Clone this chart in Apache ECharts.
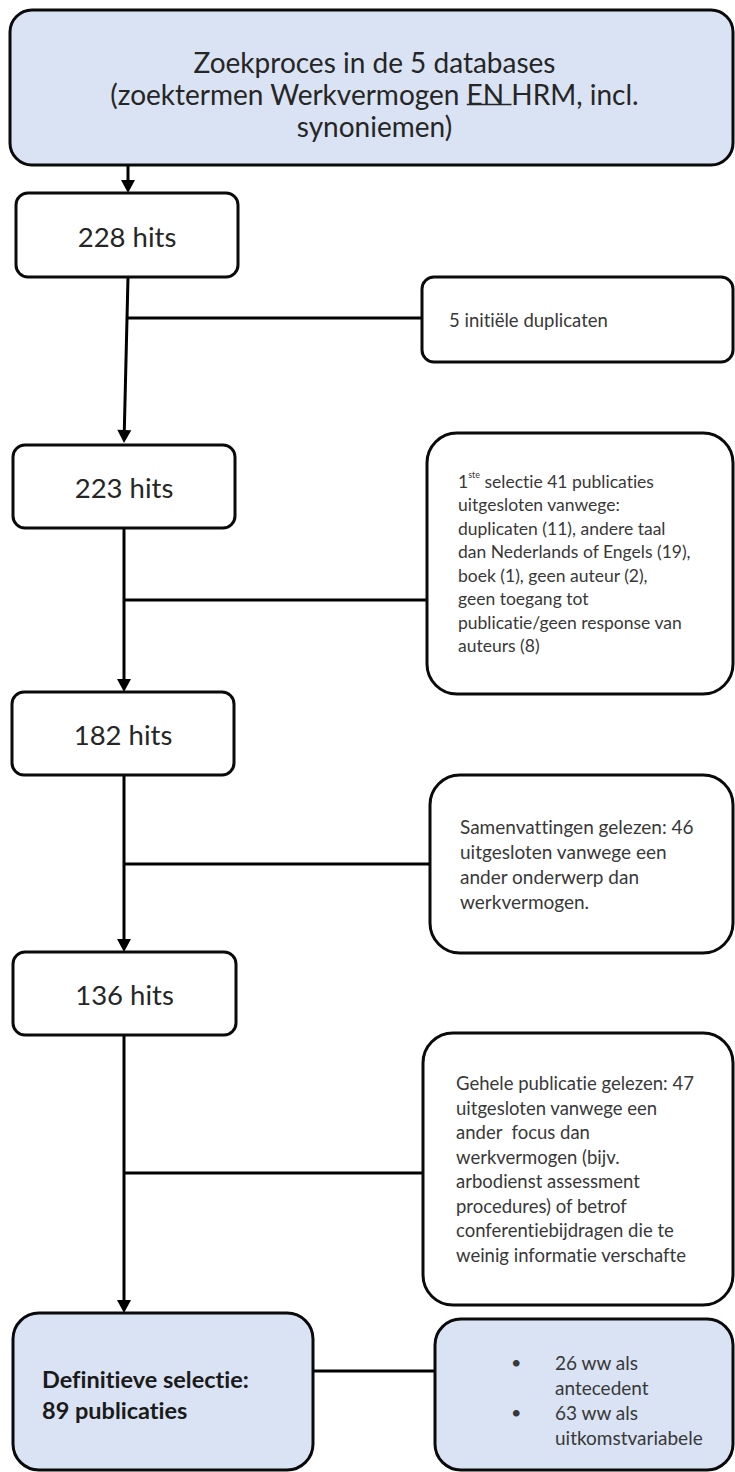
<!DOCTYPE html>
<html lang="nl">
<head>
<meta charset="UTF-8">
<title>Zoekproces werkvermogen en HRM</title>
<script src="https://cdn.jsdelivr.net/npm/echarts@6/dist/echarts.min.js"></script>
<style>
html,body{margin:0;padding:0;background:#fff;}
/* geen ligaturen (Lato maakt anders 'ti' aan elkaar) */
#main text, #main tspan{font-variant-ligatures:none !important;font-feature-settings:"liga" 0,"clig" 0 !important;}
</style>
</head>
<body>
<div id="main" style="width:735px;height:1472px;"></div>
<script type="text/javascript">
// aantallen uit het stroomschema
var hits = [228, 223, 182, 136];
var excluded = [5, 41, 46, 47];
var firstSelection = [11, 19, 1, 2, 8]; // duplicaten, taal, boek, geen auteur, geen toegang
var finalCount = 89;
var finalSplit = [26, 63];          // ww als antecedent / ww als uitkomstvariabele

var startLines = ['Zoekproces in de 5 databases', '(zoektermen Werkvermogen EN HRM, incl.', 'synoniemen)'];
var noteTexts = [
    excluded[0] + ' initiële duplicaten',
    '1{sup|ste} selectie ' + excluded[1] + ' publicaties\nuitgesloten vanwege:\nduplicaten (' + firstSelection[0] +
        '), andere taal\ndan Nederlands of Engels (' + firstSelection[1] + '),\nboek (' + firstSelection[2] +
        '), geen auteur (' + firstSelection[3] + '),\ngeen toegang tot\npublicatie/geen response van\nauteurs (' + firstSelection[4] + ')',
    'Samenvattingen gelezen: ' + excluded[2] + '\nuitgesloten vanwege een\nander onderwerp dan\nwerkvermogen.',
    'Gehele publicatie gelezen: ' + excluded[3] + '\nuitgesloten vanwege een\nander  focus dan\nwerkvermogen (bijv.\narbodienst assessment\nprocedures) of betrof\nconferentiebijdragen die te\nweinig informatie verschafte'
];
var finalText = 'Definitieve selectie:\n' + finalCount + ' publicaties';
var splitLabels = ['ww als\nantecedent', 'ww als\nuitkomstvariabele'];

// vakken: [x0, y0, x1, y1] in paginacoordinaten
var boxes = [
    [10, 10, 733, 165],
    [16, 193, 238, 277],
    [422, 277, 733, 362],
    [13, 445, 235, 528],
    [427, 433, 733, 694],
    [12, 692, 234, 775],
    [430, 775, 733, 953],
    [13, 952, 236, 1035],
    [423, 1033, 733, 1305],
    [13, 1313, 313, 1470],
    [435, 1319, 733, 1470]
];
var boxKind = ['start', 'hit', 'note', 'hit', 'note', 'hit', 'note', 'hit', 'note', 'final', 'split'];
var boxRadius = [22, 12, 12, 12, 30, 12, 30, 12, 30, 26, 26];

// verbindingen: [x0, y0, x1, y1, pijl]
var links = [
    [128, 165, 128, 193, 1],
    [128, 277, 124, 443, 1],
    [127, 318, 422, 318, 0],
    [124, 528, 124, 692, 1],
    [124, 600, 427, 600, 0],
    [124, 775, 124, 952, 1],
    [124, 864, 430, 864, 0],
    [124, 1035, 124, 1313, 1],
    [124, 1173, 423, 1173, 0],
    [313, 1371, 435, 1371, 0]
];

var FONT = 'Lato, "Open Sans", sans-serif';
var BLUE = '#dae3f3';
var measureCtx = document.createElement('canvas').getContext('2d');
function textWidth(str, font) {
    measureCtx.font = font;
    return measureCtx.measureText(str).width;
}

var noteStyle = [
    {size: 18.5, lh: 22, pad: 27},
    {size: 17.5, lh: 23.5, pad: 31},
    {size: 19, lh: 24.7, pad: 30},
    {size: 18.5, lh: 24.5, pad: 33}
];

function renderBox(params, api) {
    var i = params.dataIndex;
    var p0 = api.coord([api.value(0), api.value(1)]);
    var p1 = api.coord([api.value(2), api.value(3)]);
    var w = p1[0] - p0[0], h = p1[1] - p0[1];
    var kind = boxKind[i];
    var cx = p0[0] + w / 2, cy = p0[1] + h / 2;
    var children = [{
        type: 'rect',
        shape: {x: p0[0], y: p0[1], width: w, height: h, r: boxRadius[i]},
        style: {fill: (kind === 'start' || kind === 'final' || kind === 'split') ? BLUE : '#fff', stroke: '#0a0a0a', lineWidth: 3}
    }];
    if (kind === 'start') {
        var fs = 28;
        var ty = cy + 6;
        children.push({type: 'text', style: {
            text: startLines.join('\n'), x: cx + 3, y: ty, align: 'center', verticalAlign: 'middle',
            fontFamily: FONT, fontSize: fs, lineHeight: 32, fill: '#262626'
        }});
        // onderstreping van "EN"
        var font = fs + 'px ' + FONT;
        var line2 = startLines[1];
        var pre = line2.slice(0, line2.indexOf('EN '));
        var ux = cx + 3 - textWidth(line2, font) / 2 + textWidth(pre, font);
        var uy = ty + 11;
        children.push({type: 'line', shape: {x1: ux, y1: uy, x2: ux + textWidth('EN ', font), y2: uy},
            style: {stroke: '#262626', lineWidth: 1.5}});
    } else if (kind === 'hit') {
        var k = [1, 3, 5, 7].indexOf(i);
        children.push({type: 'text', style: {
            text: hits[k] + ' hits', x: cx, y: cy + 1, align: 'center', verticalAlign: 'middle',
            fontFamily: FONT, fontSize: 27.5, fill: '#262626'
        }});
    } else if (kind === 'note') {
        var n = [2, 4, 6, 8].indexOf(i);
        var ns = noteStyle[n];
        children.push({type: 'text', style: {
            text: noteTexts[n], x: p0[0] + ns.pad, y: cy, align: 'left', verticalAlign: 'middle',
            fontFamily: FONT, fontSize: ns.size, lineHeight: ns.lh, fill: '#383838',
            rich: {sup: {fontFamily: FONT, fontSize: 9, lineHeight: 11, verticalAlign: 'top', fill: '#383838'}}
        }});
    } else if (kind === 'final') {
        children.push({type: 'text', style: {
            text: finalText, x: p0[0] + 29, y: cy + 3, align: 'left', verticalAlign: 'middle',
            fontFamily: FONT, fontSize: 23.5, fontWeight: 'bold', lineHeight: 31, fill: '#1a1a1a'
        }});
    } else if (kind === 'split') {
        var lines = [];
        for (var s = 0; s < finalSplit.length; s++) {
            var parts = splitLabels[s].split('\n');
            lines.push(finalSplit[s] + ' ' + parts[0], parts[1]);
        }
        children.push({type: 'text', style: {
            text: '•\n\n•\n', x: p0[0] + 76, y: cy + 5, align: 'left', verticalAlign: 'middle',
            fontFamily: FONT, fontSize: 18, lineHeight: 25, fill: '#383838'
        }});
        children.push({type: 'text', style: {
            text: lines.join('\n'), x: p0[0] + 120, y: cy + 5, align: 'left', verticalAlign: 'middle',
            fontFamily: FONT, fontSize: 19, lineHeight: 25, fill: '#383838'
        }});
    }
    return {type: 'group', children: children};
}

function renderLink(params, api) {
    var a = api.coord([api.value(0), api.value(1)]);
    var b = api.coord([api.value(2), api.value(3)]);
    var end = b;
    var children = [];
    if (api.value(4)) {
        var dx = b[0] - a[0], dy = b[1] - a[1];
        var len = Math.sqrt(dx * dx + dy * dy);
        var ux = dx / len, uy = dy / len;
        var hl = 13, hw = 7;
        var base = [b[0] - ux * hl, b[1] - uy * hl];
        end = base;
        children.push({type: 'polygon', shape: {points: [b, [base[0] - uy * hw, base[1] + ux * hw], [base[0] + uy * hw, base[1] - ux * hw]]},
            style: {fill: '#000'}});
    }
    children.unshift({type: 'line', shape: {x1: a[0], y1: a[1], x2: end[0], y2: end[1]}, style: {stroke: '#000', lineWidth: 3}});
    return {type: 'group', children: children};
}

var myChart = echarts.init(document.getElementById('main'), null, {renderer: 'svg'});
myChart.setOption({
    animation: false,
    grid: {left: 0, right: 0, top: 0, bottom: 0},
    xAxis: {type: 'value', min: 0, max: 735, show: false},
    yAxis: {type: 'value', min: 0, max: 1472, inverse: true, show: false},
    series: [{
        type: 'custom',
        renderItem: renderLink,
        data: links,
        clip: false,
        silent: true
    }, {
        type: 'custom',
        renderItem: renderBox,
        data: boxes,
        clip: false,
        silent: true
    }]
});
</script>
</body>
</html>
